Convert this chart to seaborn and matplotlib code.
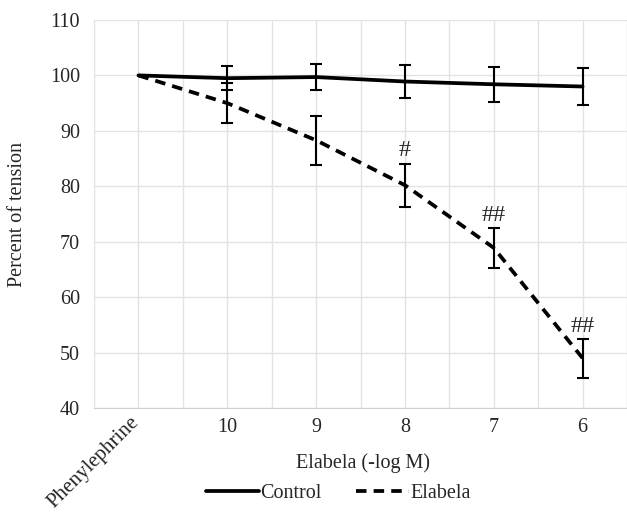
import numpy as np
import pandas as pd
import matplotlib
matplotlib.use("Agg")
import matplotlib.pyplot as plt
import matplotlib.transforms as mtransforms
import seaborn as sns
from matplotlib.lines import Line2D

# данные
categories = ["Phenylephrine", "10", "9", "8", "7", "6"]
control_mean = [100.0, 99.5, 99.7, 98.9, 98.4, 98.0]
control_err = [0.0, 2.2, 2.3, 3.0, 3.2, 3.4]
elabela_mean = [100.0, 95.0, 88.3, 80.2, 68.9, 49.0]
elabela_err = [0.0, 3.6, 4.4, 3.9, 3.6, 3.5]
marks = ["", "", "", "#", "##", "##"]

sns.set_style("white")
plt.rcParams["font.family"] = ["Liberation Serif", "DejaVu Serif"]

x = np.arange(len(categories))
df = pd.DataFrame({
    "x": np.concatenate([x, x]),
    "value": control_mean + elabela_mean,
    "group": ["Control"] * len(x) + ["Elabela"] * len(x),
})

fig = plt.figure(figsize=(6.27, 5.12), dpi=100)
ax = fig.add_axes([0.150, 0.203, 0.850, 0.758])

sns.lineplot(data=df[df.group == "Control"], x="x", y="value", ax=ax,
             color="black", lw=2.7, legend=False)
sns.lineplot(data=df[df.group == "Elabela"], x="x", y="value", ax=ax,
             color="black", lw=2.7, legend=False)
ax.lines[-1].set_dashes([2.8, 1.9])

ax.errorbar(x[1:], control_mean[1:], yerr=control_err[1:], fmt="none",
            ecolor="black", elinewidth=1.5, capsize=4, capthick=1.5)
ax.errorbar(x[1:], elabela_mean[1:], yerr=elabela_err[1:], fmt="none",
            ecolor="black", elinewidth=1.5, capsize=4, capthick=1.5)

for xi, m, e, t in zip(x, elabela_mean, elabela_err, marks):
    if t:
        ax.text(xi, m + e + 0.4, t, ha="center", va="bottom", fontsize=17.5)

ax.set_xlim(-0.5, 5.43)
ax.set_ylim(40, 110)
ax.set_yticks(range(40, 111, 10))
ax.set_xticks(x)
ax.set_xticklabels(categories)
ax.xaxis.remove_overlapping_locs = False
ax.set_xticks(np.arange(-0.5, 6.0, 0.5), minor=True)
ax.grid(True, which="minor", axis="x", color="#e3e3e3", lw=1)
ax.grid(True, which="major", axis="y", color="#e3e3e3", lw=1)
ax.set_axisbelow(True)
for s in ["top", "right", "left"]:
    ax.spines[s].set_visible(False)
ax.spines["bottom"].set_color("#d0d0d0")
ax.tick_params(axis="both", which="both", length=0, labelsize=14.5)
ax.tick_params(axis="y", pad=10)
ax.tick_params(axis="x", pad=7)

lbl = ax.get_xticklabels()[0]
lbl.set_rotation(45)
lbl.set_ha("right")
lbl.set_va("top")
lbl.set_rotation_mode("anchor")
lbl.set_fontsize(15)
lbl.set_transform(lbl.get_transform() +
                  mtransforms.ScaledTranslation(-0.09, 0.05, fig.dpi_scale_trans))

ax.set_xlabel("Elabela (-log M)", fontsize=14.5)
ax.xaxis.set_label_coords(0.505, -0.142)
ax.set_ylabel("Percent of tension", fontsize=14.5)
ax.yaxis.set_label_coords(-0.144, 0.5)
ax.yaxis.label.set_va("center")
ax.xaxis.label.set_va("center")

handles = [Line2D([], [], color="black", lw=2.7),
           Line2D([], [], color="black", lw=2.7, dashes=[2.8, 1.9])]
fig.legend(handles, ["Control", "Elabela"], loc="center",
           bbox_to_anchor=(0.54, 0.037), ncol=2, frameon=False,
           fontsize=14.5, handlelength=2.6, handletextpad=0.1, columnspacing=1.7)

fig.savefig("out.png", dpi=100)
